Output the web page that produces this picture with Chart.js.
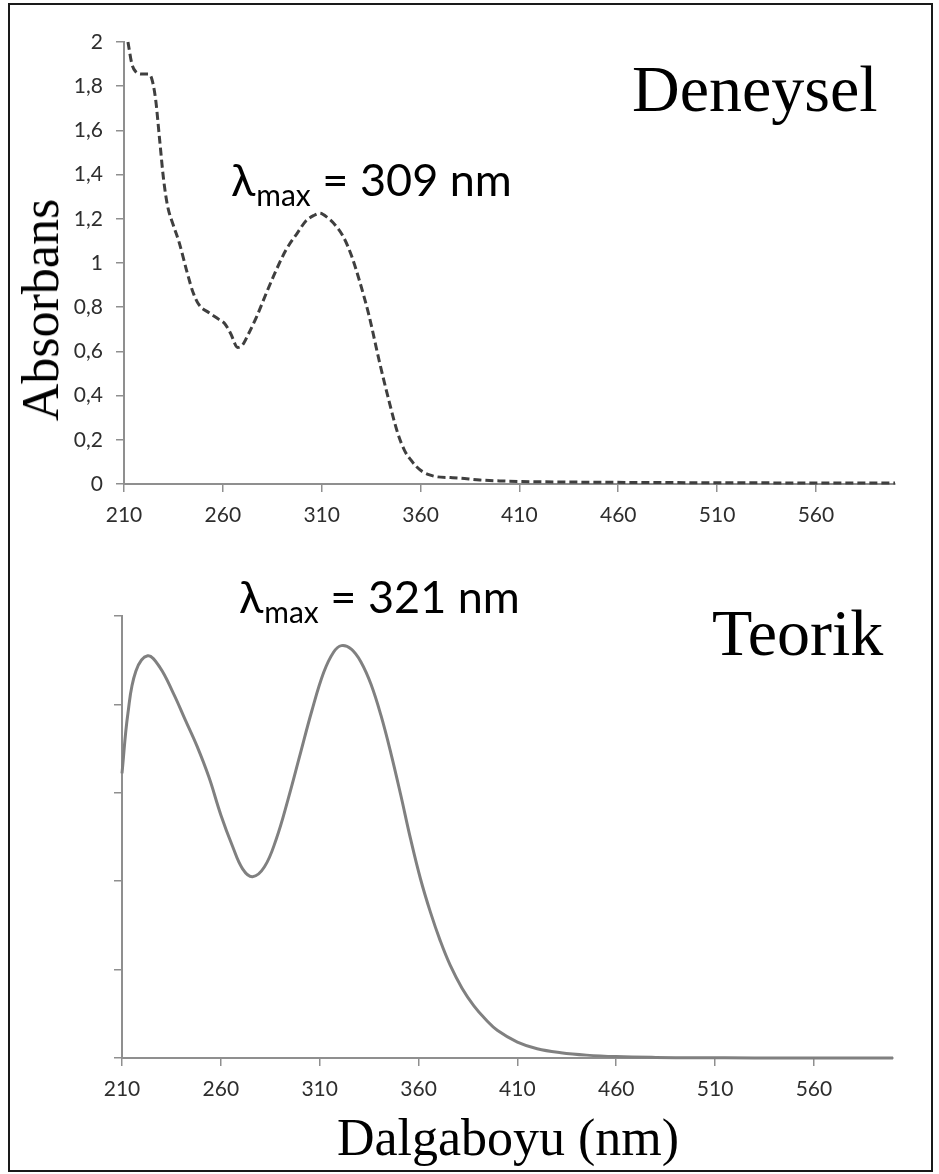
<!DOCTYPE html>
<html lang="tr">
<head>
<meta charset="utf-8">
<title>Absorbans spektrumu</title>
<script src="https://cdn.jsdelivr.net/npm/chart.js@4/dist/chart.umd.min.js"></script>
<style>
  html, body { margin: 0; padding: 0; background: #fff; }
  body { width: 939px; height: 1174px; position: relative; overflow: hidden; }
  .frame { position: absolute; left: 8px; top: 3px; width: 921px; height: 1165px; border: 2px solid #1a1a1a; }
  canvas { position: absolute; left: 0; }
  #expChart { top: 0; }
  #teoChart { top: 560px; }
  .serif { position: absolute; font-family: "Liberation Serif", "Times New Roman", serif; color: #000; line-height: 1; white-space: nowrap; }
  .lam { position: absolute; font-family: Lato, "Open Sans", sans-serif; color: #000; font-size: 45px; line-height: 1; white-space: nowrap; }
  .lam .sub { font-size: 30px; position: relative; top: 10px; margin-left: 1px; }
  .ylabel { position: absolute; left: 41px; top: 310px; font-size: 52px; transform: translate(-50%, -50%) rotate(-90deg); }
</style>
</head>
<body>
<div class="frame"></div>
<canvas id="expChart" width="939" height="560"></canvas>
<canvas id="teoChart" width="939" height="614"></canvas>

<div class="serif" style="left:632px; top:56px; font-size:66px;">Deneysel</div>
<div class="serif" style="left:712px; top:600px; font-size:66px;">Teorik</div>
<div class="serif ylabel">Absorbans</div>
<div class="serif" style="left:508px; top:1112px; font-size:52px; transform: translateX(-50%);">Dalgaboyu (nm)</div>
<div class="lam" style="left:231px; top:157px;">λ<span class="sub">max</span> = 309 nm</div>
<div class="lam" style="left:239px; top:574px;">λ<span class="sub">max</span> = 321 nm</div>

<script>
// Experimental spectrum (dashed): wavelength in nm, absorbance
const expWavelength = [212, 214, 216, 219, 222, 224, 226, 228, 230, 232, 235, 238, 242, 245, 248, 253, 258, 261, 264, 267.5, 270, 273, 277, 282, 287, 292, 298, 302, 306, 309, 313, 317, 321, 325, 329, 334, 339, 343.5, 348.5, 352, 355, 358, 361, 365, 368, 375, 380, 390, 400, 420, 450, 500, 550, 600];
const expAbsorbance = [2.0, 1.9, 1.865, 1.855, 1.855, 1.835, 1.74, 1.56, 1.38, 1.26, 1.17, 1.09, 0.955, 0.865, 0.81, 0.775, 0.745, 0.725, 0.68, 0.618, 0.63, 0.68, 0.755, 0.864, 0.968, 1.06, 1.14, 1.19, 1.215, 1.225, 1.205, 1.17, 1.118, 1.035, 0.923, 0.76, 0.561, 0.395, 0.229, 0.15, 0.11, 0.078, 0.056, 0.04, 0.033, 0.029, 0.026, 0.018, 0.014, 0.01, 0.008, 0.006, 0.005, 0.005];

// Calculated spectrum (solid): wavelength in nm, relative intensity
const teoWavelength = [210, 213, 217, 223, 229, 236, 242, 248, 254, 260, 266, 271, 276, 282, 288, 294, 300, 306, 312, 317, 321, 326, 331, 336, 341, 346, 351, 356, 361, 366, 371, 376, 382, 388, 394, 400, 410, 420, 432, 445, 460, 480, 500, 530, 560, 600];
const teoIntensity = [0.644, 0.78, 0.875, 0.91, 0.885, 0.825, 0.765, 0.705, 0.635, 0.55, 0.478, 0.428, 0.41, 0.432, 0.495, 0.585, 0.685, 0.785, 0.872, 0.918, 0.933, 0.925, 0.895, 0.845, 0.775, 0.69, 0.595, 0.495, 0.405, 0.33, 0.265, 0.21, 0.158, 0.118, 0.087, 0.062, 0.036, 0.021, 0.012, 0.0065, 0.0032, 0.0013, 0.0006, 0.0002, 0.0001, 0];

// Axis ticks
const xTickValues = [210, 260, 310, 360, 410, 460, 510, 560];
const expYTickValues = [0, 0.2, 0.4, 0.6, 0.8, 1, 1.2, 1.4, 1.6, 1.8, 2];
const teoYTickValues = [0, 0.2, 0.4, 0.6, 0.8, 1];

const axisGray = '#8f8f8f';
const labelColor = '#2e2e2e';
const tickFont = { family: 'Lato, "Open Sans", sans-serif', size: 21 };

const toPoints = (xs, ys) => xs.map((x, i) => ({ x: x, y: ys[i] }));
const commaDecimal = v => String(Math.round(v * 10) / 10).replace('.', ',');

function axisStyle() {
  return {
    grid: { display: true, drawOnChartArea: false, drawTicks: true, tickLength: 8, color: axisGray, lineWidth: 1.5 },
    border: { display: true, color: axisGray, width: 2 }
  };
}

function xAxis(height) {
  return Object.assign(axisStyle(), {
    type: 'linear',
    min: 210,
    max: 600,
    afterBuildTicks: s => { s.ticks = xTickValues.map(v => ({ value: v })); },
    afterFit: s => { s.height = height; },
    ticks: { color: labelColor, font: tickFont, padding: 11, maxRotation: 0, autoSkip: false, callback: v => String(v) }
  });
}

function yAxis(width, max, values, showLabels) {
  return Object.assign(axisStyle(), {
    type: 'linear',
    min: 0,
    max: max,
    afterBuildTicks: s => { s.ticks = values.map(v => ({ value: v })); },
    afterFit: s => { s.width = width; },
    ticks: { color: labelColor, font: tickFont, padding: 13, autoSkip: false, callback: v => showLabels ? commaDecimal(v) : '' }
  });
}

const common = {
  responsive: false,
  animation: false,
  events: [],
  plugins: { legend: { display: false }, tooltip: { enabled: false } }
};

new Chart(document.getElementById('expChart'), {
  type: 'line',
  data: {
    datasets: [{
      data: toPoints(expWavelength, expAbsorbance),
      borderColor: '#3f3f3f',
      borderWidth: 3,
      borderDash: [8, 4],
      pointRadius: 0,
      cubicInterpolationMode: 'monotone',
      clip: false,
      fill: false
    }]
  },
  options: Object.assign({}, common, {
    layout: { padding: { top: 42, right: 44, left: 0, bottom: 0 } },
    scales: { x: xAxis(76), y: yAxis(124, 2, expYTickValues, true) }
  })
});

new Chart(document.getElementById('teoChart'), {
  type: 'line',
  data: {
    datasets: [{
      data: toPoints(teoWavelength, teoIntensity),
      borderColor: '#808080',
      borderWidth: 3,
      pointRadius: 0,
      tension: 0.4,
      clip: false,
      fill: false
    }]
  },
  options: Object.assign({}, common, {
    layout: { padding: { top: 56, right: 46, left: 0, bottom: 0 } },
    scales: { x: xAxis(116), y: yAxis(122, 1, teoYTickValues, false) }
  })
});
</script>
</body>
</html>
